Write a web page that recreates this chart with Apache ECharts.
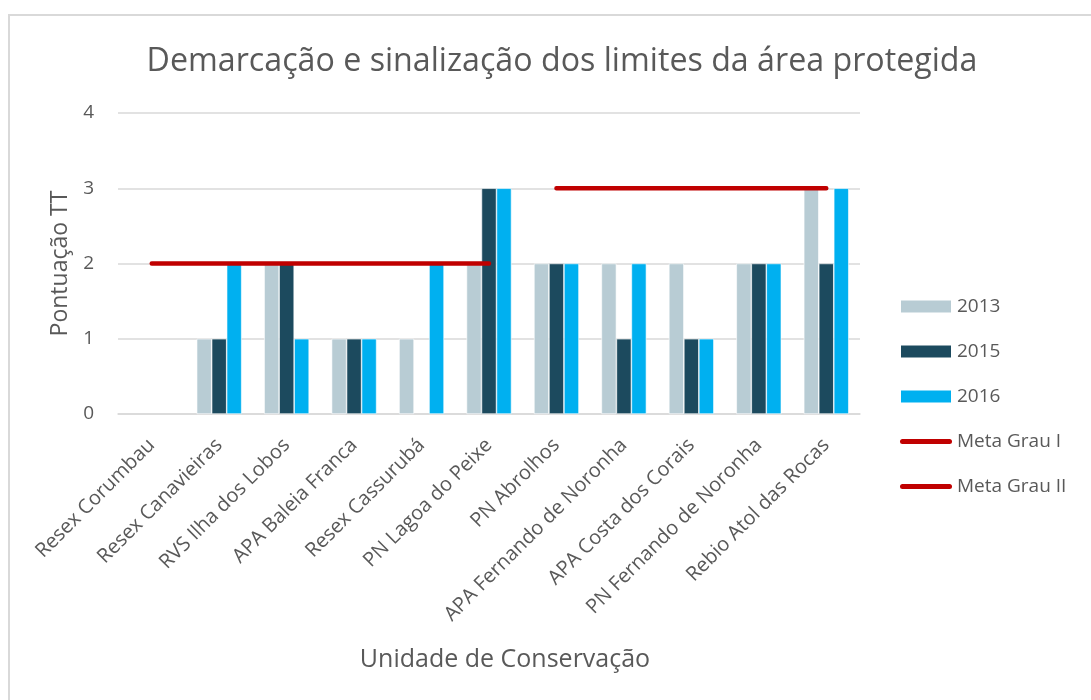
<!DOCTYPE html>
<html>
<head>
<meta charset="utf-8">
<script src="https://cdn.jsdelivr.net/npm/echarts@6/dist/echarts.min.js"></script>
<style>
  html, body { margin: 0; padding: 0; background: #fff; }
  #chart { width: 1091px; height: 700px; }
</style>
</head>
<body>
<div id="chart"></div>
<script>
const categories = [
  'Resex Corumbau', 'Resex Canavieiras', 'RVS Ilha dos Lobos', 'APA Baleia Franca',
  'Resex Cassurubá', 'PN Lagoa do Peixe', 'PN Abrolhos', 'APA Fernando de Noronha',
  'APA Costa dos Corais', 'PN Fernando de Noronha', 'Rebio Atol das Rocas'
]
const v2013 = [0, 1, 2, 1, 1, 2, 2, 2, 2, 2, 3]
const v2015 = [0, 1, 2, 1, 0, 3, 2, 1, 1, 2, 2]
const v2016 = [0, 2, 1, 1, 2, 3, 2, 2, 1, 2, 3]
const metaGrauI = [2, 2, 2, 2, 2, 2, null, null, null, null, null]
const metaGrauII = [null, null, null, null, null, null, 3, 3, 3, 3, 3]

const font = '"Open Sans", "Noto Sans", sans-serif'
const grey = '#595959'
// thick red stroke with round ends, boxed to 52x14 so the legend doesn't stretch it
const lineIcon = 'path://M0,0 M52,14 M2.5,4.5 L49.5,4.5 A2.5,2.5 0 0 1 49.5,9.5 L2.5,9.5 A2.5,2.5 0 0 1 2.5,4.5 Z'

// zero bars are not drawn at all (no sliver of border)
const bar = (name, data, color) => ({
  name: name,
  type: 'bar',
  data: data.map(v => (v === 0 ? '-' : v)),
  barWidth: 15,
  barGap: '0%',
  itemStyle: { color: color, borderColor: '#fff', borderWidth: 0.6 }
})

const meta = (name, data) => ({
  name: name,
  type: 'line',
  data: data,
  z: 5,
  symbol: 'none',
  connectNulls: false,
  lineStyle: { color: '#C00000', width: 4.5, cap: 'round' },
  itemStyle: { color: '#C00000' }
})

const chart = echarts.init(document.getElementById('chart'))
chart.setOption({
  animation: false,
  title: {
    text: 'Demarcação e sinalização dos limites da área protegida',
    left: 557,
    textAlign: 'center',
    top: 41,
    textStyle: { fontFamily: font, fontSize: 32.2, fontWeight: 'normal', color: grey }
  },
  graphic: [
    {
      type: 'rect',
      shape: { x: 9, y: 15, width: 1200, height: 800 },
      style: { fill: null, stroke: '#D9D9D9', lineWidth: 2 }
    },
    {
      type: 'text',
      x: 505,
      y: 660,
      style: {
        text: 'Unidade de Conservação',
        fill: grey,
        font: '25px ' + font,
        textAlign: 'center',
        textVerticalAlign: 'middle'
      }
    }
  ],
  legend: {
    orient: 'vertical',
    left: 894,
    top: 292,
    itemWidth: 52,
    itemHeight: 14,
    itemGap: 26,
    textStyle: { fontFamily: font, fontSize: 19, color: grey },
    data: [
      { name: '2013', icon: 'rect' },
      { name: '2015', icon: 'rect' },
      { name: '2016', icon: 'rect' },
      { name: 'Meta Grau I', icon: lineIcon },
      { name: 'Meta Grau II', icon: lineIcon }
    ]
  },
  grid: { left: 118, right: 231, top: 113, bottom: 286 },
  xAxis: {
    type: 'category',
    data: categories,
    axisTick: { show: false },
    axisLine: { lineStyle: { color: '#D9D9D9', width: 1.5 } },
    axisLabel: {
      interval: 0,
      rotate: 45,
      margin: 28,
      fontFamily: font,
      fontSize: 20,
      color: grey
    }
  },
  yAxis: {
    type: 'value',
    min: 0,
    max: 4,
    interval: 1,
    name: 'Pontuação TT',
    nameLocation: 'middle',
    nameGap: 45,
    nameTextStyle: { fontFamily: font, fontSize: 23, color: grey },
    axisLine: { show: false },
    axisTick: { show: false },
    splitLine: { lineStyle: { color: '#D9D9D9', width: 1.5 } },
    axisLabel: { fontFamily: font, fontSize: 19, color: grey, margin: 24 }
  },
  series: [
    bar('2013', v2013, '#B8CCD4'),
    bar('2015', v2015, '#1C4A5E'),
    bar('2016', v2016, '#00B0F0'),
    meta('Meta Grau I', metaGrauI),
    meta('Meta Grau II', metaGrauII)
  ]
})
</script>
</body>
</html>
